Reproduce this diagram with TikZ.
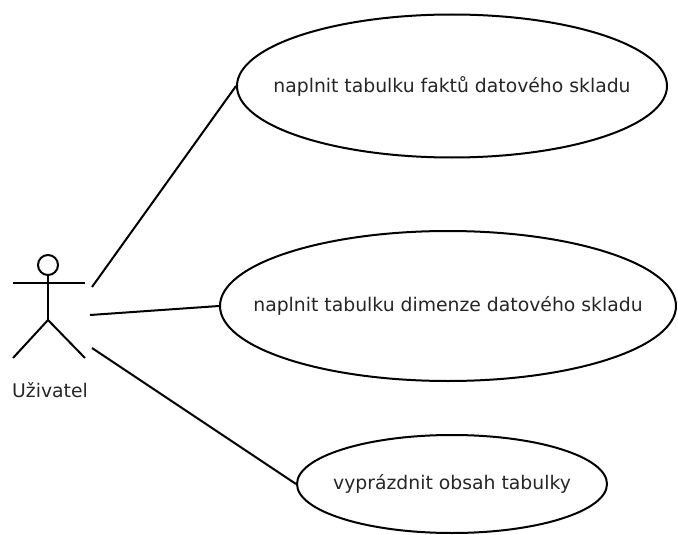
\documentclass[tikz,border=0pt]{standalone}
\usepackage{fontspec}
\setmainfont{DejaVu Sans}
\usetikzlibrary{shapes.geometric,positioning}

\begin{document}
\begin{tikzpicture}[
    x=1pt, y=-1pt,
    usecase/.style={ellipse, draw=black, fill=white, line width=2pt, inner sep=0pt},
    uctext/.style={font=\fontsize{18.8}{22}\selectfont, text=black!85},
    actor/.style={draw=black, line width=2pt},
    assoc/.style={draw=black, line width=2pt}
]
    \useasboundingbox (0,0) rectangle (678,535);

    % Actor
    \draw[actor] (48,265) circle (10);
    \draw[actor] (48,275) -- (48,320);
    \draw[actor] (13,283) -- (85,283);
    \draw[actor] (13,358) -- (48,320) -- (85,358);
    \node[uctext] (user) at (50,390) {Uživatel};
    \coordinate (a1) at (92,287);
    \coordinate (a2) at (90,315);
    \coordinate (a3) at (92,348);

    % Use cases
    \node[usecase, minimum width=430pt, minimum height=143pt,
          label={[uctext]center:naplnit tabulku faktů datového skladu}] (fakty) at (452,86) {};
    \node[usecase, minimum width=456pt, minimum height=150pt,
          label={[uctext]center:naplnit tabulku dimenze datového skladu}] (dimenze) at (448,306) {};
    \node[usecase, minimum width=310pt, minimum height=98pt,
          label={[uctext]center:vyprázdnit obsah tabulky}] (vyprazdnit) at (452,484) {};

    % Associations
    \draw[assoc] (a1) -- (fakty.west);
    \draw[assoc] (a2) -- (dimenze.west);
    \draw[assoc] (a3) -- (vyprazdnit.west);
\end{tikzpicture}
\end{document}
